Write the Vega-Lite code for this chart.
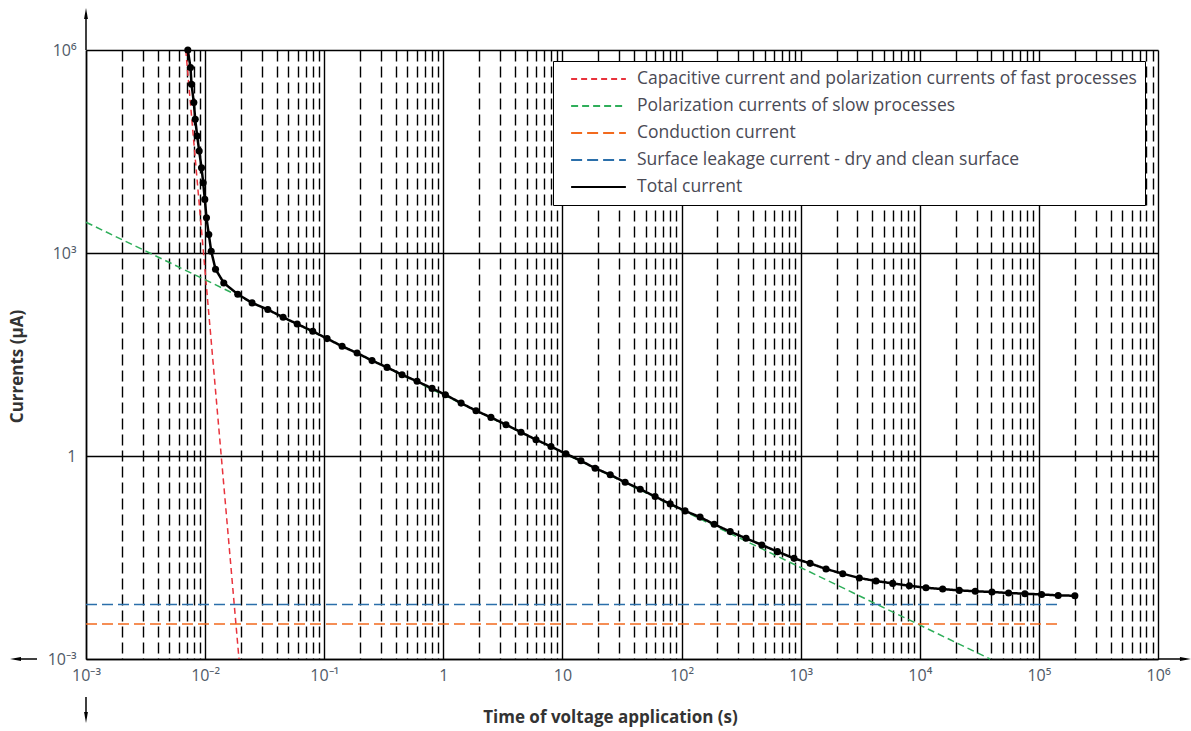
{
  "$schema": "https://vega.github.io/schema/vega-lite/v6.json",
  "width": 1072,
  "height": 609,
  "autosize": {"type": "none"},
  "padding": {"left": 86, "top": 50, "right": 33, "bottom": 72},
  "background": "white",
  "config": {
    "view": {"stroke": null},
    "font": "Open Sans",
    "legend": {
      "orient": "none",
      "legendX": 467,
      "legendY": 11,
      "fillColor": "white",
      "strokeColor": "black",
      "padding": 8,
      "symbolType": "stroke",
      "symbolSize": 3000,
      "symbolStrokeWidth": 2,
      "symbolOffset": 9,
      "labelOffset": 10,
      "labelFont": "Open Sans",
      "labelFontSize": 17.5,
      "labelColor": "#4a4a55",
      "clipHeight": 20,
      "rowPadding": 7,
      "labelLimit": 800
    }
  },
  "datasets": {
    "curves": [
      {"series": "Capacitive current and polarization currents of fast processes", "time": 0.00688, "current": 1000000},
      {"series": "Capacitive current and polarization currents of fast processes", "time": 0.01925, "current": 0.001},
      {"series": "Polarization currents of slow processes", "time": 0.001, "current": 2850},
      {"series": "Polarization currents of slow processes", "time": 38900, "current": 0.001},
      {"series": "Conduction current", "time": 0.001, "current": 0.0033},
      {"series": "Conduction current", "time": 148000, "current": 0.0033},
      {"series": "Surface leakage current - dry and clean surface", "time": 0.001, "current": 0.0064},
      {"series": "Surface leakage current - dry and clean surface", "time": 148000, "current": 0.0064},
      {"series": "Total current", "time": 0.00716, "current": 1000000},
      {"series": "Total current", "time": 0.00754, "current": 550000},
      {"series": "Total current", "time": 0.00769, "current": 312000},
      {"series": "Total current", "time": 0.00804, "current": 167000},
      {"series": "Total current", "time": 0.00826, "current": 94700},
      {"series": "Total current", "time": 0.00858, "current": 53600},
      {"series": "Total current", "time": 0.00892, "current": 32100},
      {"series": "Total current", "time": 0.00933, "current": 18200},
      {"series": "Total current", "time": 0.00964, "current": 10900},
      {"series": "Total current", "time": 0.00994, "current": 6200},
      {"series": "Total current", "time": 0.01027, "current": 3310},
      {"series": "Total current", "time": 0.01074, "current": 1880},
      {"series": "Total current", "time": 0.01125, "current": 1064},
      {"series": "Total current", "time": 0.01223, "current": 576},
      {"series": "Total current", "time": 0.01435, "current": 361},
      {"series": "Total current", "time": 0.0188, "current": 246},
      {"series": "Total current", "time": 0.0248, "current": 183},
      {"series": "Total current", "time": 0.0336, "current": 146},
      {"series": "Total current", "time": 0.0452, "current": 112},
      {"series": "Total current", "time": 0.0593, "current": 89.3},
      {"series": "Total current", "time": 0.0801, "current": 69.6},
      {"series": "Total current", "time": 0.1057, "current": 54.3},
      {"series": "Total current", "time": 0.1413, "current": 41.8},
      {"series": "Total current", "time": 0.1888, "current": 33.2},
      {"series": "Total current", "time": 0.252, "current": 25.7},
      {"series": "Total current", "time": 0.337, "current": 20.4},
      {"series": "Total current", "time": 0.45, "current": 15.9},
      {"series": "Total current", "time": 0.602, "current": 12.7},
      {"series": "Total current", "time": 0.804, "current": 9.98},
      {"series": "Total current", "time": 1.04, "current": 8.05},
      {"series": "Total current", "time": 1.41, "current": 6.05},
      {"series": "Total current", "time": 1.88, "current": 4.67},
      {"series": "Total current", "time": 2.51, "current": 3.72},
      {"series": "Total current", "time": 3.36, "current": 2.9},
      {"series": "Total current", "time": 4.49, "current": 2.25},
      {"series": "Total current", "time": 6.0, "current": 1.74},
      {"series": "Total current", "time": 8.01, "current": 1.38},
      {"series": "Total current", "time": 10.7, "current": 1.078},
      {"series": "Total current", "time": 14.3, "current": 0.849},
      {"series": "Total current", "time": 18.8, "current": 0.66},
      {"series": "Total current", "time": 25.2, "current": 0.527},
      {"series": "Total current", "time": 33.6, "current": 0.409},
      {"series": "Total current", "time": 45.0, "current": 0.323},
      {"series": "Total current", "time": 60.0, "current": 0.2515},
      {"series": "Total current", "time": 80.2, "current": 0.196},
      {"series": "Total current", "time": 107, "current": 0.1545},
      {"series": "Total current", "time": 143, "current": 0.125},
      {"series": "Total current", "time": 188, "current": 0.0978},
      {"series": "Total current", "time": 256, "current": 0.0763},
      {"series": "Total current", "time": 348, "current": 0.0607},
      {"series": "Total current", "time": 472, "current": 0.0485},
      {"series": "Total current", "time": 638, "current": 0.0386},
      {"series": "Total current", "time": 880, "current": 0.0307},
      {"series": "Total current", "time": 1200, "current": 0.0259},
      {"series": "Total current", "time": 1633, "current": 0.0214},
      {"series": "Total current", "time": 2255, "current": 0.01823},
      {"series": "Total current", "time": 3108, "current": 0.01574},
      {"series": "Total current", "time": 4291, "current": 0.01422},
      {"series": "Total current", "time": 5925, "current": 0.0131},
      {"series": "Total current", "time": 8170, "current": 0.0121},
      {"series": "Total current", "time": 11270, "current": 0.0113},
      {"series": "Total current", "time": 15560, "current": 0.0108},
      {"series": "Total current", "time": 21450, "current": 0.01032},
      {"series": "Total current", "time": 29230, "current": 0.01004},
      {"series": "Total current", "time": 40360, "current": 0.00977},
      {"series": "Total current", "time": 55690, "current": 0.00945},
      {"series": "Total current", "time": 76340, "current": 0.00922},
      {"series": "Total current", "time": 105400, "current": 0.009},
      {"series": "Total current", "time": 145200, "current": 0.0087},
      {"series": "Total current", "time": 200500, "current": 0.00861}
    ],
    "arrows": [
      {"name": "up", "time": 0.001, "time2": 0.001, "current": 1000000, "current2": 3460000},
      {"name": "right", "time": 1000000, "time2": 1700000, "current": 0.001, "current2": 0.001},
      {"name": "left", "time": 0.000256, "time2": 0.000388, "current": 0.001, "current2": 0.001},
      {"name": "down", "time": 0.001, "time2": 0.001, "current": 0.000274, "current2": 0.000137}
    ]
  },
  "layer": [
    {
      "data": {"name": "curves"},
      "mark": {"type": "line", "clip": false},
      "encoding": {
        "x": {
          "field": "time", "type": "quantitative",
          "title": "Time of voltage application (s)",
          "scale": {"type": "log", "domain": [0.001, 1000000], "nice": false},
          "axis": {
            "values": [0.001,0.002,0.003,0.004,0.005,0.006,0.007,0.008,0.009,
                       0.01,0.02,0.03,0.04,0.05,0.06,0.07,0.08,0.09,
                       0.1,0.2,0.3,0.4,0.5,0.6,0.7,0.8,0.9,
                       1,2,3,4,5,6,7,8,9,
                       10,20,30,40,50,60,70,80,90,
                       100,200,300,400,500,600,700,800,900,
                       1000,2000,3000,4000,5000,6000,7000,8000,9000,
                       10000,20000,30000,40000,50000,60000,70000,80000,90000,
                       100000,200000,300000,400000,500000,600000,700000,800000,900000,
                       1000000],
            "labelExpr": "abs(log(datum.value)/LN10 - round(log(datum.value)/LN10)) < 0.01 ? ['10⁻³','10⁻²','10⁻¹','1','10','10²','10³','10⁴','10⁵','10⁶'][round(log(datum.value)/LN10)+3] : ''",
            "ticks": false,
            "grid": true,
            "gridColor": "black",
            "gridOpacity": 1,
            "gridWidth": 1.4,
            "gridDash": {"condition": {"test": "abs(log(datum.value)/LN10 - round(log(datum.value)/LN10)) < 0.01", "value": [1, 0]}, "value": [11, 5]},
            "domainColor": "black",
            "domainWidth": 1.5,
            "labelFont": "Open Sans",
            "labelFontSize": 16,
            "labelColor": "#505a68",
            "labelPadding": 8,
            "labelFlush": false,
            "labelOverlap": false,
            "titleFont": "Open Sans",
            "titleFontWeight": "bold",
            "titleFontSize": 17,
            "titleColor": "#333333",
            "titleX": 524,
            "titleY": 58,
            "titleBaseline": "middle"
          }
        },
        "y": {
          "field": "current", "type": "quantitative",
          "title": "Currents (μA)",
          "scale": {"type": "log", "domain": [0.001, 1000000], "nice": false},
          "axis": {
            "values": [0.001, 1, 1000, 1000000],
            "labelExpr": "datum.value < 0.01 ? '10⁻³' : datum.value < 10 ? '1' : datum.value < 10000 ? '10³' : '10⁶'",
            "ticks": false,
            "grid": true,
            "gridColor": "black",
            "gridOpacity": 1,
            "gridWidth": 1.4,
            "domainColor": "black",
            "domainWidth": 1.5,
            "labelFont": "Open Sans",
            "labelFontSize": 16,
            "labelColor": "#505a68",
            "labelPadding": 10,
            "labelFlush": false,
            "labelOverlap": false,
            "titleFont": "Open Sans",
            "titleFontWeight": "bold",
            "titleFontSize": 17,
            "titleColor": "#333333",
            "titleX": -69,
            "titleY": 316,
            "titleAlign": "center",
            "titleBaseline": "middle"
          }
        },
        "color": {
          "field": "series", "type": "nominal",
          "scale": {
            "domain": ["Capacitive current and polarization currents of fast processes", "Polarization currents of slow processes", "Conduction current", "Surface leakage current - dry and clean surface", "Total current"],
            "range": ["#e8333c", "#2fae5a", "#f26a1e", "#2b6faa", "#000000"]
          },
          "legend": {"title": null}
        },
        "strokeDash": {
          "field": "series", "type": "nominal",
          "scale": {
            "domain": ["Capacitive current and polarization currents of fast processes", "Polarization currents of slow processes", "Conduction current", "Surface leakage current - dry and clean surface", "Total current"],
            "range": [[6, 4], [7, 4], [11, 5], [11, 5], [1, 0]]
          },
          "legend": {"title": null}
        },
        "strokeWidth": {"condition": {"test": "datum.series === 'Total current'", "value": 2.5}, "value": 1.5}
      }
    },
    {
      "data": {"name": "curves"},
      "transform": [{"filter": "datum.series === 'Total current'"}],
      "mark": {"type": "point", "filled": true, "color": "black", "size": 50, "opacity": 1},
      "encoding": {
        "x": {"field": "time", "type": "quantitative", "title": "Time of voltage application (s)"},
        "y": {"field": "current", "type": "quantitative", "title": "Currents (μA)"}
      }
    },
    {
      "data": {"name": "arrows"},
      "mark": {"type": "rule", "color": "black", "strokeWidth": 1.5},
      "encoding": {
        "x": {"field": "time", "type": "quantitative", "title": "Time of voltage application (s)"},
        "x2": {"field": "time2"},
        "y": {"field": "current", "type": "quantitative", "title": "Currents (μA)"},
        "y2": {"field": "current2"}
      }
    },
    {
      "data": {"values": [{"time": 0.001, "current": 3460000}]},
      "mark": {"type": "point", "filled": true, "color": "black", "opacity": 1, "size": 121, "shape": "M0,-1L0.35,1L-0.35,1Z"},
      "encoding": {
        "x": {"field": "time", "type": "quantitative", "title": "Time of voltage application (s)"},
        "y": {"field": "current", "type": "quantitative", "title": "Currents (μA)"}
      }
    },
    {
      "data": {"values": [{"time": 1700000, "current": 0.001}]},
      "mark": {"type": "point", "filled": true, "color": "black", "opacity": 1, "size": 121, "shape": "M1,0L-1,0.35L-1,-0.35Z"},
      "encoding": {
        "x": {"field": "time", "type": "quantitative", "title": "Time of voltage application (s)"},
        "y": {"field": "current", "type": "quantitative", "title": "Currents (μA)"}
      }
    },
    {
      "data": {"values": [{"time": 0.000256, "current": 0.001}]},
      "mark": {"type": "point", "filled": true, "color": "black", "opacity": 1, "size": 121, "shape": "M-1,0L1,0.35L1,-0.35Z"},
      "encoding": {
        "x": {"field": "time", "type": "quantitative", "title": "Time of voltage application (s)"},
        "y": {"field": "current", "type": "quantitative", "title": "Currents (μA)"}
      }
    },
    {
      "data": {"values": [{"time": 0.001, "current": 0.000137}]},
      "mark": {"type": "point", "filled": true, "color": "black", "opacity": 1, "size": 121, "shape": "M0,1L0.35,-1L-0.35,-1Z"},
      "encoding": {
        "x": {"field": "time", "type": "quantitative", "title": "Time of voltage application (s)"},
        "y": {"field": "current", "type": "quantitative", "title": "Currents (μA)"}
      }
    }
  ]
}
